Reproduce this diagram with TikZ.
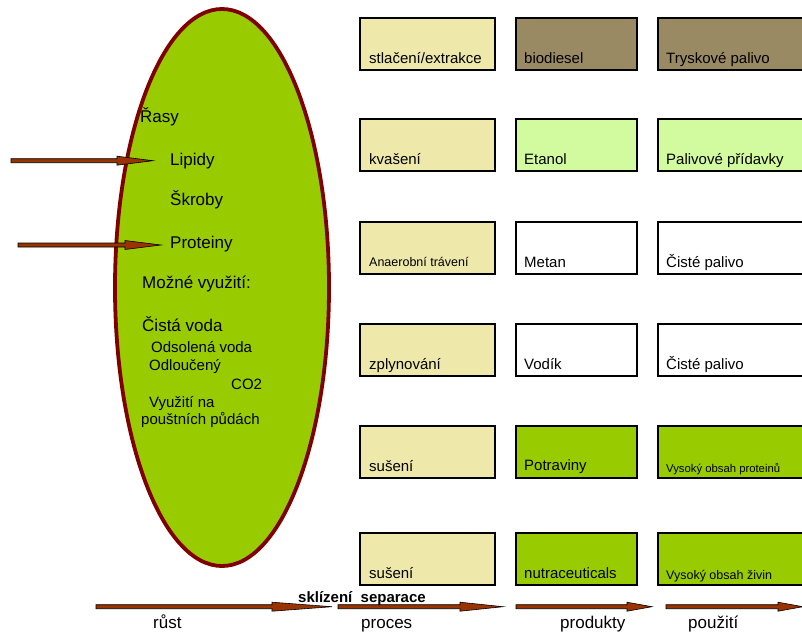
\documentclass[tikz,border=0pt]{standalone}
\usepackage{fontspec}
\setmainfont{Liberation Sans}
\usetikzlibrary{shapes.geometric,calc}
\definecolor{cream}{HTML}{EEE8AA}
\definecolor{khaki}{HTML}{9A8A64}
\definecolor{lightgr}{HTML}{D2FBA0}
\definecolor{algaegr}{HTML}{99CC00}
\definecolor{darkred}{HTML}{800000}
\definecolor{arrbrown}{HTML}{993300}
\newcommand\fsz[1]{\fontsize{#1}{#1}\selectfont}
\newcommand\blockarrow[3]{%
  \draw[blockarr] ($(#1)+(0,-2)$) -- ($(#2)+(-#3,-2)$) -- ($(#2)+(-#3,-4.5)$) -- (#2)
    -- ($(#2)+(-#3,4.5)$) -- ($(#2)+(-#3,2)$) -- ($(#1)+(0,2)$) -- cycle;}
\begin{document}
\begin{tikzpicture}[x=1pt,y=-1pt,
  box/.style={draw=black,line width=2.4pt,inner sep=0pt,anchor=north west,minimum height=52pt},
  c1/.style={box,minimum width=135pt,fill=cream},
  c2/.style={box,minimum width=121pt},
  c3/.style={box,minimum width=160pt},
  btext/.style={anchor=base west,inner sep=0pt,font=\fsz{15}},
  etext/.style={anchor=base west,inner sep=0pt,font=\fsz{17}},
  stext/.style={anchor=base west,inner sep=0pt,font=\fsz{15}},
  blockarr/.style={draw=black,line width=0.6pt,fill=arrbrown,line join=miter}]
\useasboundingbox (0,0) rectangle (802,633);
\begin{scope}
\clip (0,0) rectangle (802,633);
% ellipse
\node[ellipse,draw=darkred,line width=3.8pt,fill=algaegr,minimum width=214pt,minimum height=557pt,inner sep=0pt] (algae) at (222,287.5) {};
\node[etext] (rasy) at (140,122) {Řasy};
\node[etext] (lip) at (170,165) {Lipidy};
\node[etext] (skr) at (170,205) {Škroby};
\node[etext] (prot) at (170,248) {Proteiny};
\node[etext] (mozne) at (142,288) {Možné využití:};
\node[etext] (cista) at (142,331) {Čistá voda};
\node[stext] (odsol) at (151,352) {Odsolená voda};
\node[stext] (odlouc) at (149,370) {Odloučený};
\node[stext] (co2) at (231,389) {CO2};
\node[stext] (vyuz) at (149,407) {Využití na};
\node[stext] (pous) at (141,424) {pouštních půdách};
% input arrows
\coordinate (la) at (11,160.7);
\coordinate (lb) at (153,160.7);
\coordinate (pa) at (18,245);
\coordinate (pb) at (161,245);
\blockarrow{la}{lb}{36}
\blockarrow{pa}{pb}{36}
% boxes row 1
\node[c1] (b11) at (359,17) {};
\node[c2,fill=khaki] (b12) at (515,17) {};
\node[c3,fill=khaki] (b13) at (657,17) {};
\node[btext] (t11) at ($(b11.south west)+(10,-8)$) {stlačení/extrakce};
\node[btext] (t12) at ($(b12.south west)+(9,-8)$) {biodiesel};
\node[btext] (t13) at ($(b13.south west)+(9,-8)$) {Tryskové palivo};
% row 2
\node[c1] (b21) at (359,118) {};
\node[c2,fill=lightgr] (b22) at (515,118) {};
\node[c3,fill=lightgr] (b23) at (657,118) {};
\node[btext] (t21) at ($(b21.south west)+(10,-8)$) {kvašení};
\node[btext] (t22) at ($(b22.south west)+(9,-8)$) {Etanol};
\node[btext] (t23) at ($(b23.south west)+(9,-8)$) {Palivové přídavky};
% row 3
\node[c1] (b31) at (359,221) {};
\node[c2,fill=white] (b32) at (515,221) {};
\node[c3,fill=white] (b33) at (657,221) {};
\node[btext,font=\fsz{12.5}] (t31) at ($(b31.south west)+(10,-9)$) {Anaerobní trávení};
\node[btext] (t32) at ($(b32.south west)+(9,-8)$) {Metan};
\node[btext] (t33) at ($(b33.south west)+(9,-8)$) {Čisté palivo};
% row 4
\node[c1] (b41) at (359,323) {};
\node[c2,fill=white] (b42) at (515,323) {};
\node[c3,fill=white] (b43) at (657,323) {};
\node[btext] (t41) at ($(b41.south west)+(10,-8)$) {zplynování};
\node[btext] (t42) at ($(b42.south west)+(9,-8)$) {Vodík};
\node[btext] (t43) at ($(b43.south west)+(9,-8)$) {Čisté palivo};
% row 5
\node[c1] (b51) at (359,425) {};
\node[c2,fill=algaegr] (b52) at (515,425) {};
\node[c3,fill=algaegr] (b53) at (657,425) {};
\node[btext] (t51) at ($(b51.south west)+(10,-8)$) {sušení};
\node[btext] (t52) at ($(b52.south west)+(9,-9)$) {Potraviny};
\node[btext,font=\fsz{11.3}] (t53) at ($(b53.south west)+(9,-7)$) {Vysoký obsah proteinů};
% row 6
\node[c1] (b61) at (359,532) {};
\node[c2,fill=algaegr] (b62) at (515,532) {};
\node[c3,fill=algaegr] (b63) at (657,532) {};
\node[btext] (t61) at ($(b61.south west)+(10,-8)$) {sušení};
\node[btext] (t62) at ($(b62.south west)+(9,-8)$) {nutraceuticals};
\node[btext,font=\fsz{12.5}] (t63) at ($(b63.south west)+(9,-7)$) {Vysoký obsah živin};
% bottom arrows
\coordinate (a1s) at (96,606.7);
\coordinate (a1e) at (332,606.7);
\coordinate (a2s) at (338,606.7);
\coordinate (a2e) at (503,606.7);
\coordinate (a3s) at (516,606.7);
\coordinate (a3e) at (652,606.7);
\coordinate (a4s) at (666,606.7);
\coordinate (a4e) at (803,606.7);
\blockarrow{a1s}{a1e}{60}
\blockarrow{a2s}{a2e}{43}
\blockarrow{a3s}{a3e}{25}
\blockarrow{a4s}{a4e}{25}
\node[anchor=base west,inner sep=0pt,font=\fsz{15}\bfseries] (sklz) at (298,602) {sklízení\ \ separace};
\node[etext] (rust) at (153,628) {růst};
\node[etext] (proc) at (361,628) {proces};
\node[etext] (prod) at (560,628) {produkty};
\node[etext] (pouz) at (688,628) {použití};
\end{scope}
\end{tikzpicture}
\end{document}
